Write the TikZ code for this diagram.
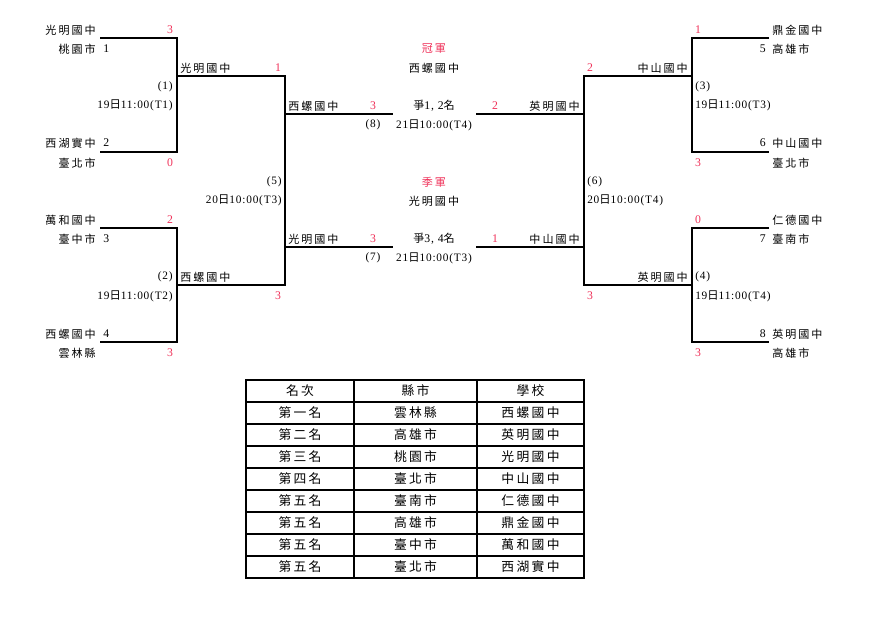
\documentclass[tikz,border=0pt]{standalone}
\usepackage{fontspec}
\setmainfont{Liberation Serif}
\newfontfamily\cjk[LetterSpace=18]{Noto Sans CJK TC}
\newfontfamily\cjt{Noto Sans CJK TC}
\newfontfamily\dg[LetterSpace=7]{Liberation Serif}
\definecolor{scol}{RGB}{240,50,90}
\begin{document}
\begin{tikzpicture}[x=0.75pt,y=-0.75pt,
  every node/.style={inner sep=0pt, font=\fontsize{8.8}{10}\selectfont},
  tm/.style={font=\cjk\fontsize{8.3}{10}\selectfont},
  sc/.style={text=scol},
  dt/.style={font=\dg\fontsize{8.5}{10}\selectfont},
  br/.style={line width=1pt},
  tb/.style={font=\cjk\fontsize{9.6}{11}\selectfont}]
\path[use as bounding box, fill=white] (0,0) rectangle (877,617);
% ---------- coordinates ----------
\coordinate (a1) at (100,38); \coordinate (a2) at (177,38);
\coordinate (a3) at (177,152); \coordinate (a4) at (100,152);
\coordinate (m1a) at (177,76); \coordinate (m1b) at (285,76);
\coordinate (b1) at (100,228); \coordinate (b2) at (177,228);
\coordinate (b3) at (177,342); \coordinate (b4) at (100,342);
\coordinate (m2a) at (177,285); \coordinate (m2b) at (285,285);
\coordinate (f1a) at (285,114); \coordinate (f1b) at (393,114);
\coordinate (t1a) at (285,247); \coordinate (t1b) at (393,247);
\coordinate (f2a) at (476,114); \coordinate (f2b) at (584,114);
\coordinate (t2a) at (476,247); \coordinate (t2b) at (584,247);
\coordinate (m3a) at (692,76); \coordinate (m3b) at (584,76);
\coordinate (m4a) at (692,285); \coordinate (m4b) at (584,285);
\coordinate (c1) at (769,38); \coordinate (c2) at (692,38);
\coordinate (c3) at (692,152); \coordinate (c4) at (769,152);
\coordinate (d1) at (769,228); \coordinate (d2) at (692,228);
\coordinate (d3) at (692,342); \coordinate (d4) at (769,342);
% ---------- bracket lines ----------
\draw[br] (a1) -- (a2) -- (a3) -- (a4);
\draw[br] (b1) -- (b2) -- (b3) -- (b4);
\draw[br] (m1a) -- (m1b) -- (m2b) -- (m2a);
\draw[br] (f1a) -- (f1b);
\draw[br] (t1a) -- (t1b);
\draw[br] (c1) -- (c2) -- (c3) -- (c4);
\draw[br] (d1) -- (d2) -- (d3) -- (d4);
\draw[br] (m3a) -- (m3b) -- (m4b) -- (m4a);
\draw[br] (f2a) -- (f2b);
\draw[br] (t2a) -- (t2b);
% ---------- left side ----------
\node[tm,anchor=east] (l1s) at (96,30) {光明國中};
\node[sc] (l1r) at (170,30) {3};
\node[tm,anchor=east] (l1c) at (96,49) {桃園市};
\node[anchor=west] (l1n) at (103,49) {1};
\node[dt,anchor=east] (g1) at (173,87) {(1)};
\node[dt,anchor=east] (g1d) at (173,105) {19{\cjt 日}11:00(T1)};
\node[tm,anchor=west] (w1) at (180,68) {光明國中};
\node[sc] (w1r) at (278,68) {1};
\node[tm,anchor=east] (l2s) at (96,143) {西湖實中};
\node[anchor=west] (l2n) at (103,143) {2};
\node[tm,anchor=east] (l2c) at (96,163) {臺北市};
\node[sc] (l2r) at (170,163) {0};
\node[dt,anchor=east] (g5) at (282,182) {(5)};
\node[dt,anchor=east] (g5d) at (282,200) {20{\cjt 日}10:00(T3)};
\node[tm,anchor=east] (l3s) at (96,220) {萬和國中};
\node[sc] (l3r) at (170,220) {2};
\node[tm,anchor=east] (l3c) at (96,239) {臺中市};
\node[anchor=west] (l3n) at (103,239) {3};
\node[dt,anchor=east] (g2) at (173,277) {(2)};
\node[tm,anchor=west] (w2) at (180,277) {西螺國中};
\node[dt,anchor=east] (g2d) at (173,296) {19{\cjt 日}11:00(T2)};
\node[sc] (w2r) at (278,296) {3};
\node[tm,anchor=east] (l4s) at (96,334) {西螺國中};
\node[anchor=west] (l4n) at (103,334) {4};
\node[tm,anchor=east] (l4c) at (96,353) {雲林縣};
\node[sc] (l4r) at (170,353) {3};
% ---------- centre ----------
\node[tm,sc] (champ) at (434,49) {冠軍};
\node[tm] (champn) at (434,68) {西螺國中};
\node[tm,anchor=west] (fl) at (288,106) {西螺國中};
\node[sc] (flr) at (373,106) {3};
\node[tm] (fg) at (434,106) {爭{\dg\fontsize{8.8}{10}\selectfont 1, 2}名};
\node[sc] (frr) at (495,106) {2};
\node[tm,anchor=east] (fr) at (580,106) {英明國中};
\node[dt] (g8) at (373,125) {(8)};
\node[dt] (g8d) at (434,125) {21{\cjt 日}10:00(T4)};
\node[tm,sc] (third) at (434,182) {季軍};
\node[tm] (thirdn) at (434,201) {光明國中};
\node[tm,anchor=west] (tl) at (288,239) {光明國中};
\node[sc] (tlr) at (373,239) {3};
\node[tm] (tg) at (434,239) {爭{\dg\fontsize{8.8}{10}\selectfont 3, 4}名};
\node[sc] (trr) at (495,239) {1};
\node[tm,anchor=east] (tr) at (580,239) {中山國中};
\node[dt] (g7) at (373,258) {(7)};
\node[dt] (g7d) at (434,258) {21{\cjt 日}10:00(T3)};
% ---------- right side ----------
\node[sc] (r1r) at (698,30) {1};
\node[tm,anchor=west] (r1s) at (772,30) {鼎金國中};
\node[anchor=east] (r1n) at (766,49) {5};
\node[tm,anchor=west] (r1c) at (772,49) {高雄市};
\node[sc] (w3r) at (590,68) {2};
\node[tm,anchor=east] (w3) at (688,68) {中山國中};
\node[dt,anchor=west] (g3) at (695,87) {(3)};
\node[dt,anchor=west] (g3d) at (695,105) {19{\cjt 日}11:00(T3)};
\node[anchor=east] (r2n) at (766,143) {6};
\node[tm,anchor=west] (r2s) at (772,143) {中山國中};
\node[sc] (r2r) at (698,163) {3};
\node[tm,anchor=west] (r2c) at (772,163) {臺北市};
\node[dt,anchor=west] (g6) at (587,182) {(6)};
\node[dt,anchor=west] (g6d) at (587,200) {20{\cjt 日}10:00(T4)};
\node[sc] (r3r) at (698,220) {0};
\node[tm,anchor=west] (r3s) at (772,220) {仁德國中};
\node[anchor=east] (r3n) at (766,239) {7};
\node[tm,anchor=west] (r3c) at (772,239) {臺南市};
\node[tm,anchor=east] (w4) at (688,277) {英明國中};
\node[dt,anchor=west] (g4) at (695,277) {(4)};
\node[sc] (w4r) at (590,296) {3};
\node[dt,anchor=west] (g4d) at (695,296) {19{\cjt 日}11:00(T4)};
\node[anchor=east] (r4n) at (766,334) {8};
\node[tm,anchor=west] (r4s) at (772,334) {英明國中};
\node[sc] (r4r) at (698,353) {3};
\node[tm,anchor=west] (r4c) at (772,353) {高雄市};
% ---------- table ----------
\draw[line width=0.8pt] (246,380) rectangle (584,578);
\foreach \yy in {402,424,446,468,490,512,534,556} \draw[line width=0.8pt] (246,\yy) -- (584,\yy);
\draw[line width=0.8pt] (354,380) -- (354,578);
\draw[line width=0.8pt] (477,380) -- (477,578);
\foreach \r/\a/\b/\c in {0/名次/縣市/學校,1/第一名/雲林縣/西螺國中,2/第二名/高雄市/英明國中,3/第三名/桃園市/光明國中,4/第四名/臺北市/中山國中,5/第五名/臺南市/仁德國中,6/第五名/高雄市/鼎金國中,7/第五名/臺中市/萬和國中,8/第五名/臺北市/西湖實中}{
  \node[tb] (ta\r) at (300,391+22*\r) {\a};
  \node[tb] (tb\r) at (415.5,391+22*\r) {\b};
  \node[tb] (tc\r) at (530.5,391+22*\r) {\c};
}
\end{tikzpicture}
\end{document}
